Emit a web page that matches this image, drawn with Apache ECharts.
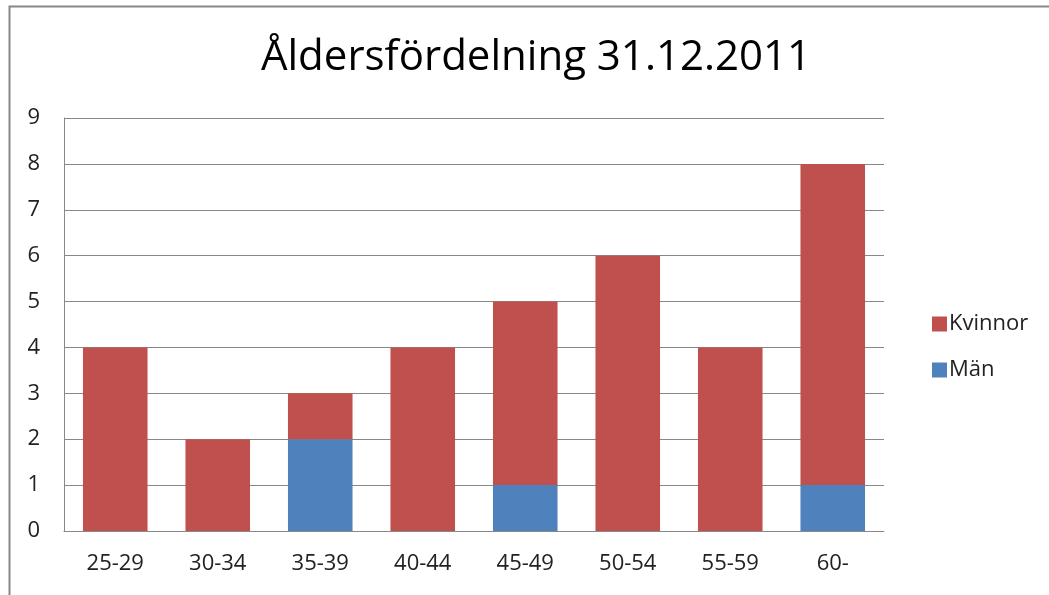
<!DOCTYPE html>
<html>
<head>
<meta charset="utf-8">
<script src="https://cdn.jsdelivr.net/npm/echarts@6/dist/echarts.min.js"></script>
<style>
  html, body { margin: 0; padding: 0; background: #fff; }
  #chart { width: 1049px; height: 595px; }
</style>
</head>
<body>
<div id="chart"></div>
<script>
const categories = ['25-29', '30-34', '35-39', '40-44', '45-49', '50-54', '55-59', '60-'];
const man = [0, 0, 2, 0, 1, 0, 0, 1];
const kvinnor = [4, 2, 1, 4, 4, 6, 4, 7];
const yTicks = [0, 1, 2, 3, 4, 5, 6, 7, 8, 9];

const chart = echarts.init(document.getElementById('chart'));
const font = 'Open Sans';

chart.setOption({
  animation: false,
  title: {
    text: 'Åldersfördelning 31.12.2011',
    left: 531,
    textAlign: 'center',
    top: 32,
    textStyle: { fontFamily: font, fontSize: 42, fontWeight: 'normal', color: '#000' }
  },
  graphic: [
    {
      type: 'rect',
      shape: { x: 9.5, y: 6.5, width: 1100, height: 700 },
      style: { fill: 'none', stroke: '#888', lineWidth: 2 }
    }
  ],
  legend: {
    orient: 'vertical',
    left: 927,
    top: 308,
    itemWidth: 15,
    itemHeight: 15,
    itemGap: 24,
    icon: 'rect',
    data: ['Kvinnor', 'Män'],
    textStyle: { fontFamily: font, fontSize: 22, color: '#222', padding: [0, 0, 0, -3] }
  },
  grid: { left: 64, right: 165, top: 118, bottom: 64 },
  xAxis: {
    type: 'category',
    data: categories,
    axisTick: { show: false },
    axisLine: { lineStyle: { color: '#888' } },
    axisLabel: { fontFamily: font, fontSize: 22, color: '#222', margin: 22 }
  },
  yAxis: {
    type: 'value',
    min: 0,
    max: 9,
    interval: 1,
    axisLine: { show: true, lineStyle: { color: '#888' } },
    axisTick: { show: false },
    splitLine: { lineStyle: { color: '#888' } },
    axisLabel: {
      fontFamily: font, fontSize: 22, color: '#222', margin: 24,
      formatter: v => yTicks.includes(v) ? String(v) : ''
    }
  },
  series: [
    {
      name: 'Män',
      type: 'bar',
      stack: 'total',
      data: man,
      barWidth: '63%',
      itemStyle: { color: '#4F81BD' }
    },
    {
      name: 'Kvinnor',
      type: 'bar',
      stack: 'total',
      data: kvinnor,
      barWidth: '63%',
      itemStyle: { color: '#C0504D' }
    }
  ]
});
</script>
</body>
</html>
